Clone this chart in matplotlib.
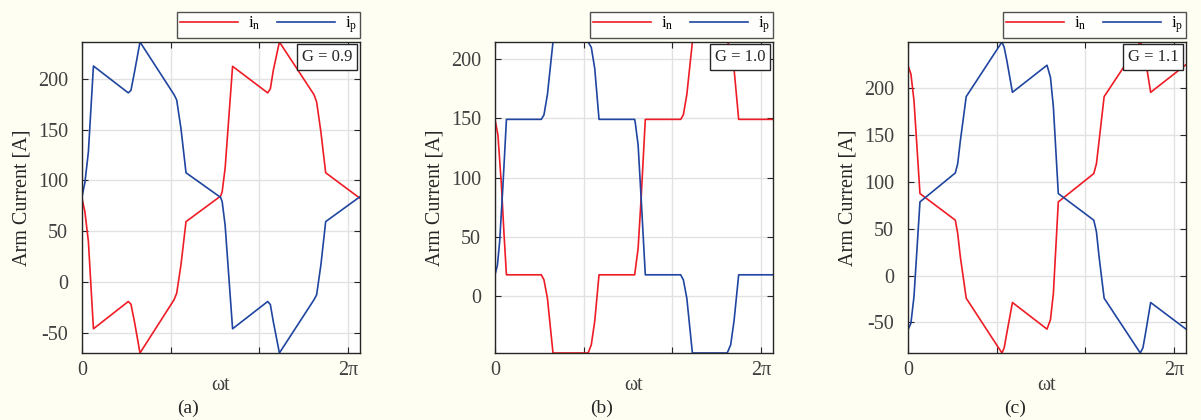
import numpy as np
import matplotlib
matplotlib.use("Agg")
import matplotlib.pyplot as plt

plt.rcParams['font.family'] = ['Liberation Serif', 'DejaVu Serif']
plt.rcParams['mathtext.fontset'] = 'custom'
plt.rcParams['mathtext.rm'] = 'Liberation Serif'
plt.rcParams['axes.unicode_minus'] = False

# wt given as fraction of 2*pi, arm currents in A
# G = 0.9
t_a = [0.000, 0.011, 0.024, 0.043, 0.174, 0.184, 0.197, 0.218, 0.346, 0.356, 0.372, 0.391,
       0.521, 0.527, 0.538, 0.566, 0.698, 0.708, 0.719, 0.742, 0.872, 0.882, 0.898, 0.916, 1.045]
ip_a = [84, 98, 128, 212.4, 186, 188.5, 206, 236, 184.3, 179, 151, 107.5,
        83.3, 79, 56, -45.8, -19, -22, -38.6, -69.6, -17.3, -12.4, 17, 59.5, 84]
in_a = [82.4, 69, 40, -45.8, -19, -21.6, -38.6, -69.6, -17.3, -10.8, 17, 59.5,
        84.6, 89, 112, 212.1, 186, 190, 208, 236, 184.3, 177, 147.7, 107.5, 82.4]

# G = 1.0
t_b_p = [0.000, 0.009, 0.0175, 0.030, 0.043, 0.174, 0.184, 0.197, 0.218, 0.350, 0.362, 0.375, 0.391,
         0.525, 0.5275, 0.538, 0.550, 0.565, 0.698, 0.708, 0.721, 0.742, 0.873, 0.886, 0.8985, 0.916, 1.045]
ip_b = [18, 26, 46, 94, 149.2, 149.2, 153, 170, 214.5, 214.5, 210, 192, 149.2,
        149.2, 146, 127.5, 80, 18, 18, 13.8, -1.7, -48, -48, -41, -21, 18, 18]
t_b_n = [0.000, 0.011, 0.024, 0.034, 0.043, 0.174, 0.184, 0.197, 0.218, 0.350, 0.362, 0.375, 0.391,
         0.525, 0.5275, 0.538, 0.550, 0.565, 0.698, 0.708, 0.721, 0.742, 0.873, 0.886, 0.8985, 0.916, 1.045]
in_b = [149.2, 136, 94, 52, 18, 18, 13.8, -1.7, -48, -48, -41, -21, 18,
        18, 22.2, 40.4, 85.4, 149.2, 149.2, 153, 170, 214.5, 214.5, 210, 192, 149.2, 149.2]

# G = 1.1
t_c = [0.000, 0.011, 0.0225, 0.045, 0.178, 0.187, 0.197, 0.219, 0.3535, 0.362, 0.372, 0.393,
       0.523, 0.536, 0.547, 0.5655, 0.699, 0.709, 0.719, 0.738, 0.874, 0.884, 0.894, 0.913, 1.046]
ip_c = [-57.8, -50.7, -22.3, 78.7, 109.6, 119.5, 144, 191.1, 249.4, 243.6, 229.4, 195.7,
        224.6, 211.7, 180, 87.6, 59.2, 46.8, 20, -24.1, -82.6, -77, -61, -28.7, -57.1]
in_c = [224.1, 215.2, 186.9, 87.6, 59.2, 45, 20, -24.1, -82.6, -77, -61, -28.7,
        -57.1, -47, -19, 78.7, 108.9, 119.5, 144, 191.1, 249.4, 243.6, 229.4, 195.7, 225.2]

gains = ['0.9', '1.0', '1.1']
yticks = [[-50, 0, 50, 100, 150, 200], [0, 50, 100, 150, 200], [-50, 0, 50, 100, 150, 200]]
captions = ['(a)', '(b)', '(c)']

panels = [(t_a, in_a, t_a, ip_a), (t_b_n, in_b, t_b_p, ip_b), (t_c, in_c, t_c, ip_c)]

red = '#ee1c25'
blue = '#1f45a0'
dark = '#262626'
bg = '#fefef3'

fig = plt.figure(figsize=(12.01, 4.20), dpi=100, facecolor=bg)

lefts = [82, 495, 908]
caption_x = [188, 602, 1015]
for k in range(3):
    tn, yn, tp, yp = panels[k]
    xn = np.array(tn) * 2 * np.pi
    xp = np.array(tp) * 2 * np.pi
    ax = fig.add_axes([lefts[k] / 1201, 67 / 420, 278 / 1201, 311 / 420])
    ax.set_facecolor('white')
    ln_n, = ax.plot(xn, yn, color=red, lw=1.2)
    ln_p, = ax.plot(xp, yp, color=blue, lw=1.2)

    ax.set_xlim(0, max(xn.max(), xp.max()))
    ax.set_ylim(min(min(yn), min(yp)), max(max(yn), max(yp)))
    ax.set_xticks([0, 2 * np.pi / 3, 4 * np.pi / 3, 2 * np.pi])
    ax.set_xticklabels(['0', '', '', '2π'])
    ax.set_yticks(yticks[k])
    ax.grid(True, color='#e2e2e2', lw=1)
    ax.set_axisbelow(True)
    ax.tick_params(direction='in', top=True, right=True, length=4, width=0.8,
                   color=dark, labelsize=14.5, labelcolor='#404040')
    ax.tick_params(axis='y', pad=10)
    ax.tick_params(axis='x', pad=6)
    for s in ax.spines.values():
        s.set_color(dark)
        s.set_linewidth(1.0)

    ax.set_xlabel('ωt', fontsize=14.5, color='#404040', labelpad=-3)
    ax.set_ylabel('Arm Current [A]', fontsize=14.5, color=dark, labelpad=5)

    leg = ax.legend([ln_n, ln_p], [r'$\mathregular{i_n}$', r'$\mathregular{i_p}$'],
                    loc='lower right', bbox_to_anchor=(1.0, 1.0 + 4 / 311), borderaxespad=0,
                    ncol=2, fontsize=12, frameon=True, fancybox=False, handlelength=3.5,
                    handletextpad=0.6, columnspacing=1.0, borderpad=0.15)
    leg.get_frame().set_edgecolor(dark)
    leg.get_frame().set_linewidth(1.0)
    leg.get_frame().set_facecolor('white')

    ax.text(0.973, 0.979, 'G = ' + gains[k], transform=ax.transAxes, ha='right', va='top',
            fontsize=12, color=dark,
            bbox=dict(boxstyle='square,pad=0.3', fc='white', ec=dark, lw=1.0))

    fig.text(caption_x[k] / 1201, 3 / 420, captions[k], ha='center', va='bottom',
             fontsize=14, color=dark)

fig.savefig('out.png', dpi=100, facecolor=bg)
